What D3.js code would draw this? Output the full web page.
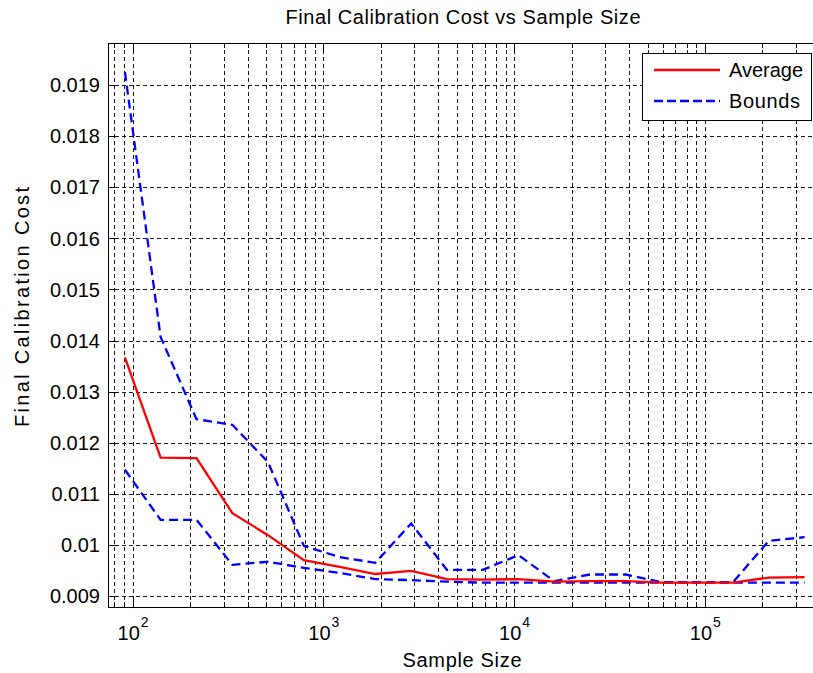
<!DOCTYPE html>
<html>
<head>
<meta charset="utf-8">
<script src="https://cdn.jsdelivr.net/npm/d3@7"></script>
<style>
  html, body { margin: 0; padding: 0; background: #fff; }
  svg { display: block; }
  text { font-family: "Liberation Sans", Arial, sans-serif; fill: #000; }
</style>
</head>
<body>
<div id="chart"></div>
<script>
// Sample sizes (x) and the calibration cost statistics at each size
const sampleSize = [91, 140, 216, 333, 512, 789, 1215, 1871, 2882, 4438, 6832, 10520, 16200, 24950, 38420, 59170, 91110, 140300, 216100, 332800];
const averageCost = [0.01367, 0.01171, 0.01170, 0.01062, 0.01019, 0.00970, 0.00957, 0.00943, 0.00949, 0.00933, 0.00932, 0.00933, 0.00928, 0.00929, 0.00929, 0.00926, 0.00926, 0.00926, 0.00936, 0.00937];
const upperBound = [0.01926, 0.01407, 0.01246, 0.01235, 0.01162, 0.00998, 0.00976, 0.00965, 0.01042, 0.00951, 0.00951, 0.00980, 0.00929, 0.00942, 0.00942, 0.00927, 0.00927, 0.00927, 0.01008, 0.01015];
const lowerBound = [0.01147, 0.01049, 0.01049, 0.00961, 0.00967, 0.00955, 0.00945, 0.00933, 0.00931, 0.00928, 0.00926, 0.00926, 0.00926, 0.00926, 0.00926, 0.00926, 0.00926, 0.00926, 0.00926, 0.00926];

const xMajorTicks = [1e2, 1e3, 1e4, 1e5];
const xTickExponents = ["2", "3", "4", "5"];
const yTicks = [0.009, 0.010, 0.011, 0.012, 0.013, 0.014, 0.015, 0.016, 0.017, 0.018, 0.019];
const yTickLabels = ["0.009", "0.01", "0.011", "0.012", "0.013", "0.014", "0.015", "0.016", "0.017", "0.018", "0.019"];
const xDomain = [74.2, 386500];
const yDomain = [0.00879, 0.01983];

const W = 813, H = 673;
const plotLeft = 108, plotRight = 817, plotTop = 42.7, plotBottom = 606.7;

const svg = d3.select("#chart").append("svg")
  .attr("width", W).attr("height", H);

const x = d3.scaleLog().domain(xDomain).range([plotLeft, plotRight]);
const y = d3.scaleLinear().domain(yDomain).range([plotBottom, plotTop]);

// minor ticks 2..9 within each decade in view
const xMinorTicks = [];
for (let e = 1; e <= 5; e++) {
  for (let m = 2; m <= 9; m++) {
    const v = m * Math.pow(10, e);
    if (v > xDomain[0] && v < xDomain[1]) xMinorTicks.push(v);
  }
}
const xAllTicks = xMinorTicks.concat(xMajorTicks);

// grid
const grid = svg.append("g").attr("stroke", "#1a1a1a").attr("stroke-width", 1)
  .attr("stroke-dasharray", "4,3").attr("shape-rendering", "crispEdges");
grid.selectAll("line.vx").data(xAllTicks).join("line")
  .attr("x1", d => Math.round(x(d)) + 0.5).attr("x2", d => Math.round(x(d)) + 0.5)
  .attr("y1", plotTop).attr("y2", plotBottom);
grid.selectAll("line.hy").data(yTicks).join("line")
  .attr("x1", plotLeft).attr("x2", plotRight)
  .attr("y1", d => Math.round(y(d)) + 0.5).attr("y2", d => Math.round(y(d)) + 0.5);

// axes with inward ticks on bottom, top and left
const axisG = svg.append("g").attr("shape-rendering", "crispEdges");
const bottomAxis = d3.axisBottom(x).tickValues(xAllTicks).tickFormat("")
  .tickSizeInner(-5).tickSizeOuter(0);
const gb = axisG.append("g").attr("transform", `translate(0,${plotBottom})`).call(bottomAxis);
gb.selectAll(".tick line").filter(d => xMajorTicks.includes(d)).attr("y2", -9);
const topAxis = d3.axisTop(x).tickValues(xAllTicks).tickFormat("")
  .tickSizeInner(-5).tickSizeOuter(0);
const gt = axisG.append("g").attr("transform", `translate(0,${plotTop})`).call(topAxis);
gt.selectAll(".tick line").filter(d => xMajorTicks.includes(d)).attr("y2", 9);
const leftAxis = d3.axisLeft(y).tickValues(yTicks).tickFormat("")
  .tickSizeInner(-8).tickSizeOuter(0);
axisG.append("g").attr("transform", `translate(${plotLeft},0)`).call(leftAxis);
axisG.selectAll(".domain").attr("stroke", "#000");
axisG.selectAll(".tick line").attr("stroke", "#000");

// frame
svg.append("rect").attr("x", plotLeft + 0.5).attr("y", plotTop + 0.5)
  .attr("width", plotRight - plotLeft).attr("height", plotBottom - plotTop)
  .attr("fill", "none").attr("stroke", "#000").attr("stroke-width", 1)
  .attr("shape-rendering", "crispEdges");

// tick labels
svg.append("g").selectAll("text").data(yTicks).join("text")
  .attr("x", plotLeft - 8).attr("y", d => y(d)).attr("dy", "0.36em")
  .attr("text-anchor", "end").attr("font-size", 20)
  .text((d, i) => yTickLabels[i]);

const xl = svg.append("g").selectAll("g").data(xMajorTicks).join("g")
  .attr("transform", d => `translate(${x(d)},0)`);
xl.append("text").attr("x", -4).attr("y", 640).attr("text-anchor", "middle")
  .attr("font-size", 20).text("10");
xl.append("text").attr("x", 8).attr("y", 627).attr("text-anchor", "start")
  .attr("font-size", 14).text((d, i) => xTickExponents[i]);

// axis titles
svg.append("text").attr("x", 462).attr("y", 667)
  .attr("text-anchor", "middle").attr("font-size", 20)
  .attr("textLength", 119).attr("lengthAdjust", "spacing").text("Sample Size");
svg.append("text").attr("transform", "translate(29,307) rotate(-90)")
  .attr("text-anchor", "middle").attr("font-size", 20)
  .attr("textLength", 240).attr("lengthAdjust", "spacing").text("Final Calibration Cost");
svg.append("text").attr("x", 463).attr("y", 24)
  .attr("text-anchor", "middle").attr("font-size", 20)
  .attr("textLength", 355).attr("lengthAdjust", "spacing")
  .text("Final Calibration Cost vs Sample Size");

// data lines
const plot = svg.append("g");
const line = vals => d3.line()
  .x((d, i) => x(sampleSize[i]))
  .y(d => y(d))(vals);

plot.append("path").attr("d", line(upperBound)).attr("fill", "none")
  .attr("stroke", "#0000ff").attr("stroke-width", 2.3).attr("stroke-dasharray", "9,5");
plot.append("path").attr("d", line(lowerBound)).attr("fill", "none")
  .attr("stroke", "#0000ff").attr("stroke-width", 2.3).attr("stroke-dasharray", "9,5");
plot.append("path").attr("d", line(averageCost)).attr("fill", "none")
  .attr("stroke", "#ff0000").attr("stroke-width", 2.3);

// legend
const lg = svg.append("g");
lg.append("rect").attr("x", 642.5).attr("y", 53.5).attr("width", 169).attr("height", 67)
  .attr("fill", "#fff").attr("stroke", "#000").attr("stroke-width", 1)
  .attr("shape-rendering", "crispEdges");
const legendItems = [
  { label: "Average", color: "#ff0000", dash: null, yy: 70, len: 74 },
  { label: "Bounds", color: "#0000ff", dash: "9,4", yy: 101, len: 71 }
];
legendItems.forEach(it => {
  lg.append("line").attr("x1", 654).attr("x2", 720).attr("y1", it.yy).attr("y2", it.yy)
    .attr("stroke", it.color).attr("stroke-width", 2.3)
    .attr("stroke-dasharray", it.dash);
  lg.append("text").attr("x", 729).attr("y", it.yy).attr("dy", "0.36em")
    .attr("font-size", 20).attr("textLength", it.len).attr("lengthAdjust", "spacing")
    .text(it.label);
});
</script>
</body>
</html>
